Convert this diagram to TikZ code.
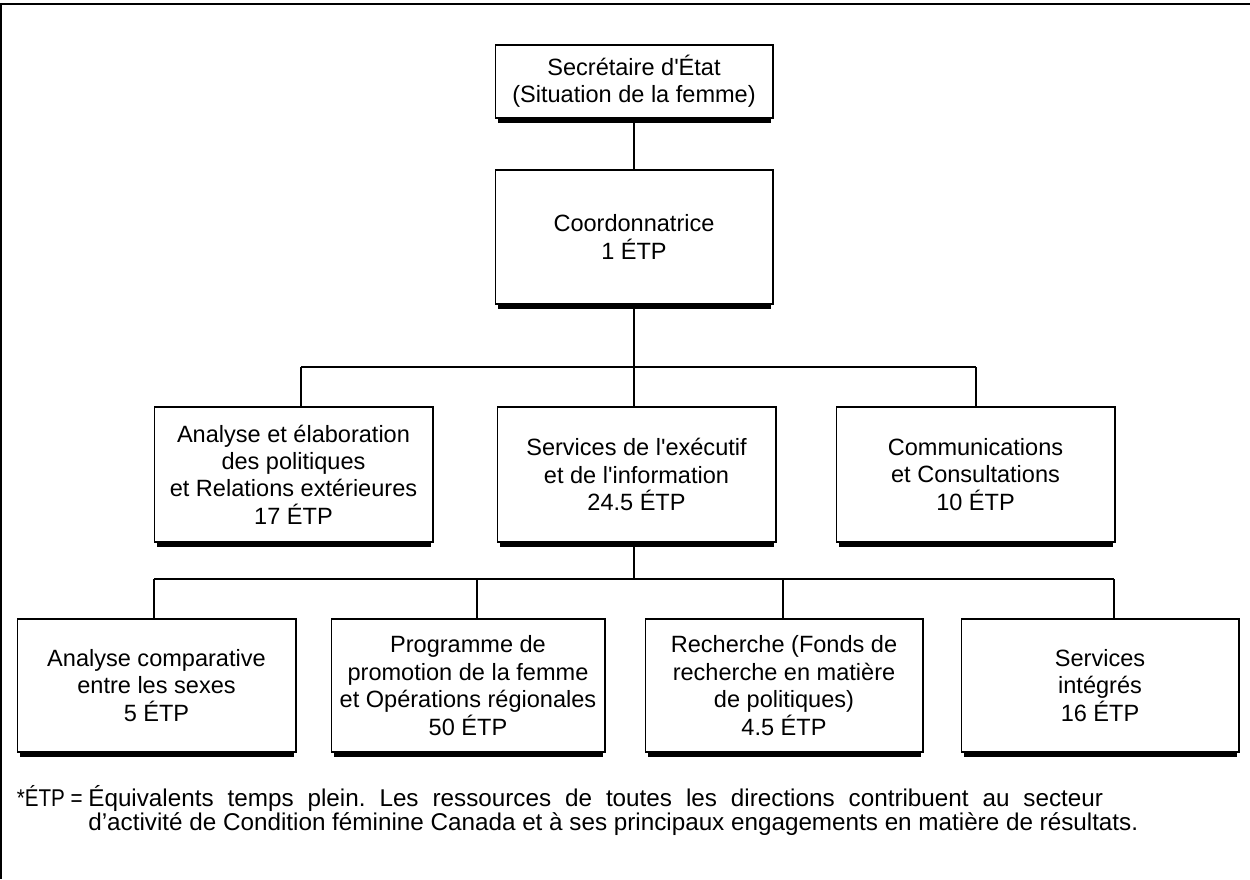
\documentclass[tikz,border=0pt]{standalone}
\usepackage{fontspec}
\usepackage{graphicx}
\setmainfont{Liberation Sans}[Ligatures=TeXOff]

\tikzset{
    unit/.style={draw, fill=white, line width=0.6pt, align=center, inner sep=0pt,
        font=\fontsize{13.4}{15.6}\selectfont},
    link/.style={line width=0.6pt},
    notetext/.style={anchor=base west, inner sep=0pt, font=\fontsize{13.8}{13.1}\selectfont\frenchspacing},
}

\begin{document}
\begin{tikzpicture}[x=0.02cm, y=-0.02cm]
    \useasboundingbox (0,0) rectangle (1250,879);
    \draw[link] (1250,4) -- (1,4) -- (1,879);

    % level 1 and 2
    \node[unit, minimum width=5.56cm, minimum height=1.46cm] (sec) at (634,81.5) {Secrétaire d'État\\(Situation de la femme)};
    \node[unit, minimum width=5.56cm, minimum height=2.68cm] (coord) at (634,237) {Coordonnatrice\\1 ÉTP};

    % directions
    \node[unit, minimum width=5.58cm, minimum height=2.70cm] (aep) at (293.5,474.5) {Analyse et élaboration\\des politiques\\et Relations extérieures\\17 ÉTP};
    \node[unit, minimum width=5.58cm, minimum height=2.70cm] (sei) at (636.5,474.5) {Services de l'exécutif\\et de l'information\\24.5 ÉTP};
    \node[unit, minimum width=5.58cm, minimum height=2.70cm] (com) at (975.5,474.5) {Communications\\et Consultations\\10 ÉTP};

    % units
    \node[unit, minimum width=5.58cm, minimum height=2.66cm] (acs) at (156.5,685.5) {Analyse comparative\\entre les sexes\\5 ÉTP};
    \node[unit, minimum width=5.48cm, minimum height=2.66cm] (ppf) at (468,685.5) {Programme de\\promotion de la femme\\et Opérations régionales\\50 ÉTP};
    \node[unit, minimum width=5.56cm, minimum height=2.66cm] (rech) at (784,685.5) {Recherche (Fonds de\\recherche en matière\\de politiques)\\4.5 ÉTP};
    \node[unit, minimum width=5.56cm, minimum height=2.66cm] (si) at (1100,685.5) {Services\\intégrés\\16 ÉTP};

    % bus lines
    \coordinate (b1) at (301,367);
    \coordinate (b2) at (976,367);
    \coordinate (c1) at (154,579);
    \coordinate (c2) at (477,579);
    \coordinate (c3) at (783,579);
    \coordinate (c4) at (1114,579);

    \draw[link] (sec) -- (coord);
    \draw[link] (coord.south) -- (coord.south |- sei.north);
    \draw[link] (b1) -- (b2);
    \draw[link] (b1) -- (b1 |- aep.north);
    \draw[link] (b2) -- (b2 |- com.north);
    \draw[link] (sei.south -| coord.south) -- (c1 -| coord.south);
    \draw[link] (c1) -- (c4);
    \foreach \c/\n in {c1/acs, c2/ppf, c3/rech, c4/si}
        \draw[link] (\c) -- (\c |- \n.north);

    % shadows
    \foreach \n in {sec, coord, aep, sei, com, acs, ppf, rech, si}
        \fill ([shift={(3,0)}]\n.south west) rectangle ([shift={(-3,4.5)}]\n.south east);

    % footnote
    \node[notetext, anchor=base east] (notekey) at (83,806) {\scalebox{0.85}[1]{*ÉTP =}};
    \node[notetext] (notebody) at (88,806)
        {\begin{tabular}[t]{@{}l@{}}
        \makebox[20.3cm][s]{Équivalents temps plein. Les ressources de toutes les directions contribuent au secteur}\\
        d’activité de Condition féminine Canada et à ses principaux engagements en matière de résultats.
        \end{tabular}};
\end{tikzpicture}
\end{document}
